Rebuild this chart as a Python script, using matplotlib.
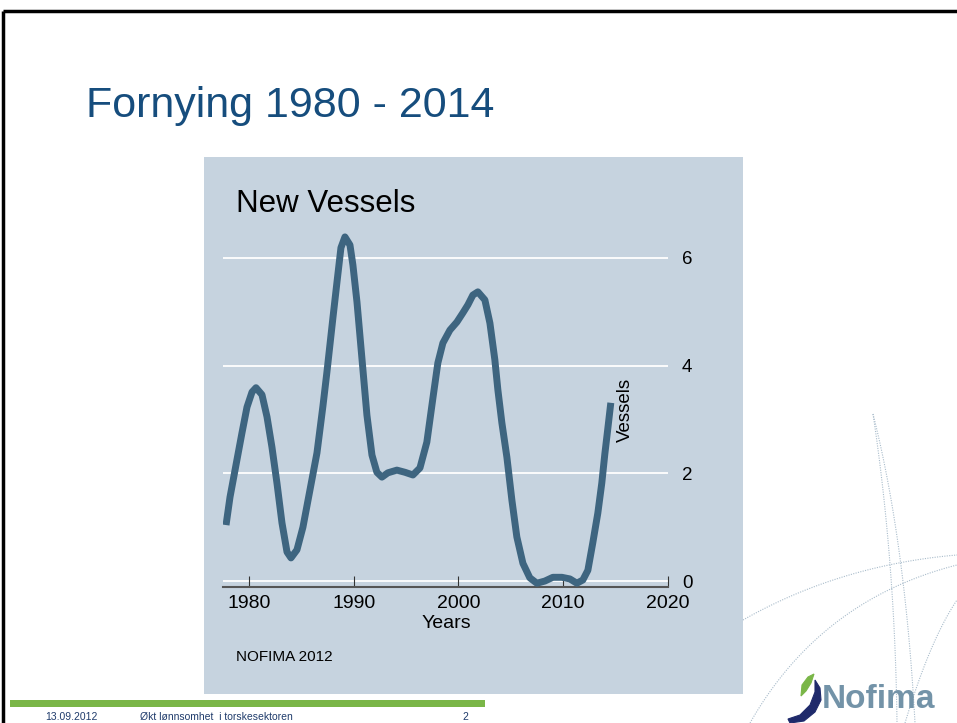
import matplotlib
matplotlib.use('Agg')
import matplotlib.pyplot as plt
import numpy as np
from matplotlib.patches import Rectangle, Polygon

plt.rcParams['font.family'] = ['Liberation Sans', 'DejaVu Sans']

# data (smoothed vessel count)
years = [1977.81, 1978.19, 1978.85, 1979.33, 1979.81, 1980.29, 1980.67, 1981.24,
         1981.72, 1982.19, 1982.67, 1983.15, 1983.63, 1984.01, 1984.58, 1985.15,
         1985.82, 1986.49, 1987.06, 1987.44, 1988.02, 1988.40, 1988.78, 1989.16,
         1989.64, 1989.92, 1990.31, 1990.78, 1991.26, 1991.74, 1992.21, 1992.69,
         1993.26, 1994.12, 1994.89, 1995.65, 1996.32, 1996.98, 1997.56, 1998.03,
         1998.51, 1999.18, 1999.85, 2000.42, 2000.90, 2001.37, 2001.85, 2002.52,
         2003.00, 2003.47, 2003.76, 2004.14, 2004.62, 2005.10, 2005.57, 2006.15,
         2006.81, 2007.48, 2008.24, 2009.01, 2009.87, 2010.63, 2011.30, 2011.87,
         2012.35, 2012.82, 2013.30, 2013.68, 2013.97, 2014.26, 2014.54]
vessels = [1.04, 1.56, 2.25, 2.75, 3.23, 3.51, 3.59, 3.46,
           3.05, 2.49, 1.82, 1.08, 0.54, 0.43, 0.58, 1.00,
           1.69, 2.38, 3.25, 3.88, 4.90, 5.55, 6.19, 6.39,
           6.24, 5.87, 5.18, 4.14, 3.08, 2.34, 2.02, 1.93,
           2.01, 2.06, 2.02, 1.97, 2.10, 2.58, 3.40, 4.05,
           4.42, 4.66, 4.81, 4.98, 5.13, 5.31, 5.37, 5.22,
           4.79, 4.11, 3.55, 2.94, 2.30, 1.50, 0.82, 0.33,
           0.06, -0.04, 0.00, 0.07, 0.07, 0.04, -0.04, 0.02,
           0.20, 0.71, 1.26, 1.82, 2.36, 2.84, 3.31]
xticks = [1980, 1990, 2000, 2010, 2020]
yticks = [0, 2, 4, 6]

W, H = 957, 723
fig = plt.figure(figsize=(W / 100, H / 100), dpi=100)
fig.patch.set_facecolor('white')

# slide background drawn in pixel coordinates
bg = fig.add_axes([0, 0, 1, 1], zorder=0)
bg.set_xlim(0, W)
bg.set_ylim(H, 0)
bg.axis('off')

bg.plot([3, W], [11, 11], color='black', lw=2.5, solid_capstyle='butt')
bg.plot([3, 3], [11, H], color='black', lw=2.5, solid_capstyle='butt')

# dotted decorative arcs
def arc(p0, p1, p2):
    t = np.linspace(0, 1, 100)
    x = (1 - t) ** 2 * p0[0] + 2 * t * (1 - t) * p1[0] + t ** 2 * p2[0]
    y = (1 - t) ** 2 * p0[1] + 2 * t * (1 - t) * p1[1] + t ** 2 * p2[1]
    bg.plot(x, y, color='#a9bccb', lw=0.8, ls=(0, (1, 1.2)))

arc((873, 414), (895, 560), (897, 723))
arc((873, 414), (905, 540), (915, 723))
arc((743, 620), (840, 565), (957, 555))
arc((750, 723), (820, 600), (957, 565))
arc((905, 723), (930, 640), (957, 600))

bg.add_patch(Rectangle((204, 157), 539, 537, facecolor='#c6d3df', edgecolor='none'))
bg.add_patch(Rectangle((10, 700), 475, 7, facecolor='#7ab648', edgecolor='none'))

# Nofima logo mark
bg.add_patch(Polygon([(788, 719), (800, 715), (810, 705), (815, 692), (815, 680),
                      (820, 688), (821, 700), (815, 712), (804, 721), (790, 723)],
                     closed=True, facecolor='#1f2a6b', edgecolor='#1f2a6b', lw=0.8))
bg.add_patch(Polygon([(801, 696), (802, 685), (808, 677), (814, 674), (811, 683), (806, 691)],
                     closed=True, facecolor='#7ab648', edgecolor='#7ab648', lw=0.8))

def fx(px):
    return px / W

def fy(py):
    return 1 - py / H

fig.text(fx(86), fy(106), 'Fornying 1980 - 2014', fontsize=31, color='#164d7d',
         va='center', ha='left')
fig.text(fx(236), fy(204), 'New Vessels', fontsize=22.5, color='black',
         va='center', ha='left')
fig.text(fx(236), fy(657), 'NOFIMA 2012', fontsize=11, color='black',
         va='center', ha='left')
fig.text(fx(446), fy(624), 'Years', fontsize=14, color='black',
         va='center', ha='center')
fig.text(fx(625), fy(410), 'Vessels', fontsize=13.5, color='black',
         va='center', ha='center', rotation=90)

fig.text(fx(45), fy(717), '13.09.2012', fontsize=7.5, color='#1f3b6b', va='center')
fig.text(fx(140), fy(717), 'Økt lønnsomhet  i torskesektoren', fontsize=7.5,
         color='#1f3b6b', va='center')
fig.text(fx(462), fy(717), '2', fontsize=7.5, color='#1f3b6b', va='center')
fig.text(fx(822), fy(700), 'Nofima', fontsize=24, fontweight='bold',
         color='#7393a8', va='center', ha='left')

# main plot axes
x_left, x_right = 223, 668
y_top, y_bot = 231, 587
ax = fig.add_axes([fx(x_left), fy(y_bot), (x_right - x_left) / W, (y_bot - y_top) / H],
                  zorder=2)
ax.patch.set_alpha(0)
ax.set_xlim(1977.52, 2020)
ax.set_ylim(-0.11, 6.5)

for v in yticks:
    ax.axhline(v, color='white', lw=1.3, zorder=1)

ax.plot(years, vessels, color='#3e6580', lw=5, solid_capstyle='butt',
        solid_joinstyle='round', zorder=3)

for s in ['top', 'left', 'right']:
    ax.spines[s].set_visible(False)
ax.spines['bottom'].set_color('#555555')
ax.spines['bottom'].set_linewidth(1.5)

ax.set_xticks(xticks)
ax.set_xticklabels([str(t) for t in xticks])
ax.tick_params(axis='x', direction='in', length=8, width=0.8, color='#333333',
               labelsize=14, pad=6)
ax.yaxis.tick_right()
ax.set_yticks(yticks)
ax.tick_params(axis='y', length=0, labelsize=13.5, pad=10)

fig.savefig('out.png', dpi=100)
